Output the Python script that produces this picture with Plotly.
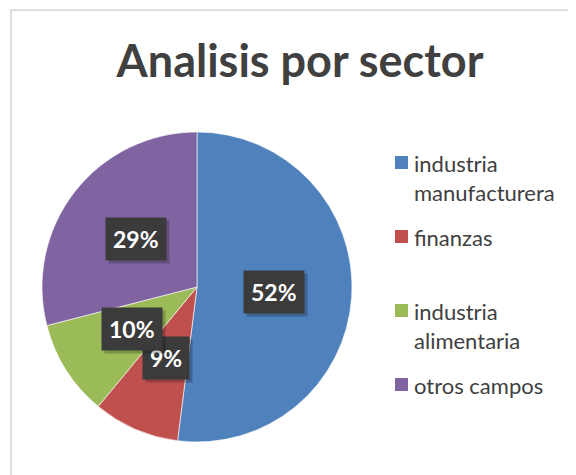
import numpy as np
import plotly.graph_objects as go

sectors = ["industria manufacturera", "finanzas", "industria alimentaria", "otros campos"]
legend_text = ["industria<br>manufacturera", "finanzas", "industria<br>alimentaria", "otros campos"]
shares = [52, 9, 10, 29]
colors = ["#4F81BD", "#C0504D", "#9BBB59", "#8064A2"]

W, H = 576, 475
OFF = 8  # page body margin
cx, cy, R = 197, 287, 155  # pie centre / radius in screen px


def px_x(x):
    return (x - OFF) / W


def px_y(y):
    return 1 - (y - OFF) / H


fig = go.Figure()
fig.add_trace(go.Pie(
    labels=sectors, values=shares, sort=False, direction="clockwise", rotation=0,
    marker=dict(colors=colors, line=dict(color="rgba(255,255,255,0.6)", width=1)),
    textinfo="none", hoverinfo="label+percent", showlegend=False,
    domain=dict(x=[px_x(cx - R), px_x(cx + R)], y=[px_y(cy + R), px_y(cy - R)]),
))

# data labels at half radius, on each slice's mid angle
total = sum(shares)
cum = np.cumsum([0] + shares)
annotations = []
for i, v in enumerate(shares):
    mid = (cum[i] + v / 2) / total * 2 * np.pi
    lx = cx + 0.5 * R * np.sin(mid)
    ly = cy - 0.5 * R * np.cos(mid)
    pct = f"{round(v / total * 100)}%"
    common = dict(x=px_x(lx), y=px_y(ly), xref="paper", yref="paper", text=f"<b>{pct}</b>",
                  showarrow=False, xanchor="center", yanchor="middle", borderpad=7)
    annotations.append(dict(common, xshift=3, yshift=-3, bgcolor="rgba(0,0,0,0.22)",
                            font=dict(size=23, color="rgba(0,0,0,0)", family="Lato")))
    annotations.append(dict(common, bgcolor="#3b3b3b",
                            font=dict(size=23, color="white", family="Lato")))

# manual legend, Excel-like spacing
legend_y = [162, 236, 310, 384]
shapes = [dict(type="rect", xref="paper", yref="paper", x0=px_x(11), x1=1.02, y0=-0.02, y1=px_y(10),
               line=dict(color="#d4d4d4", width=1.5), fillcolor="rgba(0,0,0,0)")]
for txt, col, y in zip(legend_text, colors, legend_y):
    shapes.append(dict(type="rect", xref="paper", yref="paper",
                       x0=px_x(395), x1=px_x(408), y0=px_y(y + 7), y1=px_y(y - 6),
                       fillcolor=col, line=dict(width=0)))
    annotations.append(dict(x=px_x(412), y=px_y(y - 14), xref="paper", yref="paper", text=txt,
                            showarrow=False, xanchor="left", yanchor="top", align="left",
                            font=dict(size=22, color="#404040", family="Lato")))

fig.update_layout(
    width=W, height=H, margin=dict(l=0, r=0, t=0, b=0),
    paper_bgcolor="white", plot_bgcolor="white",
    title=dict(text="<b>Analisis por sector</b>", x=px_x(300), xanchor="center",
               y=px_y(61), yanchor="middle", font=dict(size=45, color="#404040", family="Lato")),
    annotations=annotations, shapes=shapes,
)

fig.write_html("out.html")
